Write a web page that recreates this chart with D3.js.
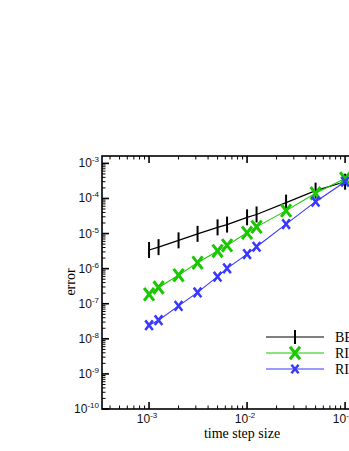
<!DOCTYPE html>
<html>
<head>
<meta charset="utf-8">
<script src="https://cdn.jsdelivr.net/npm/d3@7"></script>
<style>
  body { margin: 0; background: #fff; }
  svg { display: block; }
</style>
</head>
<body>
<div id="chart"></div>
<script>
// time step sizes (shared by all three series)
var steps = [1e-3, 1.25e-3, 2e-3, 3.125e-3, 5e-3, 6.25e-3, 1e-2, 1.25e-2, 2.5e-2, 5e-2, 1e-1];

// errors
var errBE  = [3.4e-6, 4.1e-6, 6.4e-6, 9.8e-6, 1.5e-5, 1.8e-5, 2.9e-5, 3.5e-5, 7.6e-5, 1.67e-4, 3.0e-4];
var errRI1 = [1.85e-7, 2.9e-7, 6.5e-7, 1.48e-6, 3.2e-6, 4.6e-6, 1.05e-5, 1.55e-5, 4.5e-5, 1.4e-4, 3.7e-4];
var errRI2 = [2.45e-8, 3.4e-8, 8.7e-8, 2.1e-7, 5.9e-7, 1.02e-6, 2.6e-6, 4.2e-6, 1.86e-5, 8.1e-5, 3.0e-4];

var seriesNames = ["BE", "RI", "RI"];

var xTickExp = [-3, -2, -1];
var yTickExp = [-3, -4, -5, -6, -7, -8, -9, -10];

var W = 349, H = 451;
// plot frame (right edge runs past the window, like the reference)
var fLeft = 102, fTop = 156, fBottom = 409, fRight = 399;

var svg = d3.select("#chart").append("svg")
  .attr("width", W)
  .attr("height", H);

var x = d3.scaleLog().domain([Math.pow(10, -3.48), Math.pow(10, -0.45)]).range([fLeft, fRight]);
var y = d3.scaleLog().domain([1e-10, Math.pow(10, -2.79)]).range([fBottom, fTop]);

var series = [
  { name: seriesNames[0], vals: errBE,  color: "#000000", lw: 1.2, marker: "bar" },
  { name: seriesNames[1], vals: errRI1, color: "#19c800", lw: 1.1, marker: "bigx" },
  { name: seriesNames[2], vals: errRI2, color: "#3838ff", lw: 1.1, marker: "smallx" }
];

// ---- ticks (inward) ----
var axisG = svg.append("g").attr("stroke", "#000").attr("stroke-width", 1);

function minorList(lo, hi) {
  var out = [];
  for (var e = lo; e < hi; e++) {
    for (var m = 2; m <= 9; m++) out.push(m * Math.pow(10, e));
  }
  return out;
}

var xMinor = minorList(-4, 0).filter(function(v) { return x(v) > fLeft && x(v) < fRight; });
var xMajor = xTickExp.map(function(e) { return Math.pow(10, e); });
var yMinor = minorList(-10, -2).filter(function(v) { return y(v) > fTop && y(v) < fBottom; });
var yMajor = yTickExp.map(function(e) { return Math.pow(10, e); });

[fBottom, fTop].forEach(function(yy) {
  var dir = yy === fBottom ? -1 : 1;
  axisG.selectAll(null).data(xMinor).enter().append("line")
    .attr("x1", function(d) { return x(d); }).attr("x2", function(d) { return x(d); })
    .attr("y1", yy).attr("y2", yy + dir * 3.5);
  axisG.selectAll(null).data(xMajor).enter().append("line")
    .attr("x1", function(d) { return x(d); }).attr("x2", function(d) { return x(d); })
    .attr("y1", yy).attr("y2", yy + dir * 7).attr("stroke-width", 1.6);
});

[fLeft, fRight].forEach(function(xx) {
  var dir = xx === fLeft ? 1 : -1;
  axisG.selectAll(null).data(yMinor).enter().append("line")
    .attr("y1", function(d) { return y(d); }).attr("y2", function(d) { return y(d); })
    .attr("x1", xx).attr("x2", xx + dir * 3.5);
  axisG.selectAll(null).data(yMajor).enter().append("line")
    .attr("y1", function(d) { return y(d); }).attr("y2", function(d) { return y(d); })
    .attr("x1", xx).attr("x2", xx + dir * 7).attr("stroke-width", 1.6);
});

// frame
svg.append("rect")
  .attr("x", fLeft).attr("y", fTop)
  .attr("width", fRight - fLeft).attr("height", fBottom - fTop)
  .attr("fill", "none").attr("stroke", "#000").attr("stroke-width", 1.6);

// ---- tick labels ----
var tickFont = "'Liberation Sans', Arial, sans-serif";

var xl = svg.append("g").attr("font-family", tickFont).attr("font-size", 12).attr("fill", "#111");
xTickExp.forEach(function(e) {
  var t = xl.append("text")
    .attr("x", x(Math.pow(10, e)) - 2)
    .attr("y", fBottom + 14)
    .attr("text-anchor", "middle");
  t.append("tspan").text("10");
  t.append("tspan").attr("dy", -5).attr("font-size", 8).text(e);
});

var yl = svg.append("g").attr("font-family", tickFont).attr("font-size", 12).attr("fill", "#111");
yTickExp.forEach(function(e) {
  var t = yl.append("text")
    .attr("x", fLeft - 3)
    .attr("y", y(Math.pow(10, e)) + 4)
    .attr("text-anchor", "end");
  t.append("tspan").text("10");
  t.append("tspan").attr("dy", -5).attr("font-size", 8).text(e);
});

// axis titles
var serif = "'Liberation Serif', 'Times New Roman', serif";
svg.append("text")
  .attr("x", 242).attr("y", 438)
  .attr("text-anchor", "middle")
  .attr("font-family", serif).attr("font-size", 14)
  .text("time step size");

svg.append("text")
  .attr("transform", "translate(75,282) rotate(-90)")
  .attr("text-anchor", "middle")
  .attr("font-family", serif).attr("font-size", 14)
  .text("error");

// ---- series ----
// marker sizes: [half width, half height, stroke]
var xSizes = { bigx: [5, 6.3, 3], smallx: [3.8, 4.8, 2.5], legbig: [5, 6.3, 3], legsmall: [3.6, 4.2, 2.5] };

function drawMarker(g, kind, color, cx, cy, barHalf) {
  if (kind === "bar") {
    var bh = barHalf || 8;
    g.append("line").attr("x1", cx).attr("x2", cx).attr("y1", cy - bh).attr("y2", cy + bh)
      .attr("stroke", color).attr("stroke-width", 2);
  } else {
    var sz = xSizes[kind];
    var hw = sz[0], hh = sz[1];
    g.append("path")
      .attr("d", "M" + (cx - hw) + "," + (cy - hh) + "L" + (cx + hw) + "," + (cy + hh) +
                 "M" + (cx + hw) + "," + (cy - hh) + "L" + (cx - hw) + "," + (cy + hh))
      .attr("stroke", color).attr("stroke-width", sz[2]).attr("fill", "none");
  }
}

var line = d3.line()
  .x(function(d) { return x(d[0]); })
  .y(function(d) { return y(d[1]); });

series.forEach(function(s) {
  var pts = steps.map(function(t, i) { return [t, s.vals[i]]; });
  var g = svg.append("g");
  g.append("path")
    .attr("d", line(pts))
    .attr("fill", "none")
    .attr("stroke", s.color)
    .attr("stroke-width", s.lw);
  pts.forEach(function(p) {
    drawMarker(g, s.marker, s.color, x(p[0]), y(p[1]));
  });
});

// ---- legend ----
var legY = [337, 353, 369];
var legKind = { bar: "bar", bigx: "legbig", smallx: "legsmall" };
var leg = svg.append("g");
series.forEach(function(s, i) {
  var ly = legY[i];
  leg.append("line")
    .attr("x1", 266).attr("x2", 324).attr("y1", ly).attr("y2", ly)
    .attr("stroke", s.color).attr("stroke-width", s.lw);
  drawMarker(leg, legKind[s.marker], s.color, 295, ly, 7);
  leg.append("text")
    .attr("x", 335).attr("y", ly + 5)
    .attr("font-family", serif).attr("font-size", 14)
    .text(s.name);
});
</script>
</body>
</html>
